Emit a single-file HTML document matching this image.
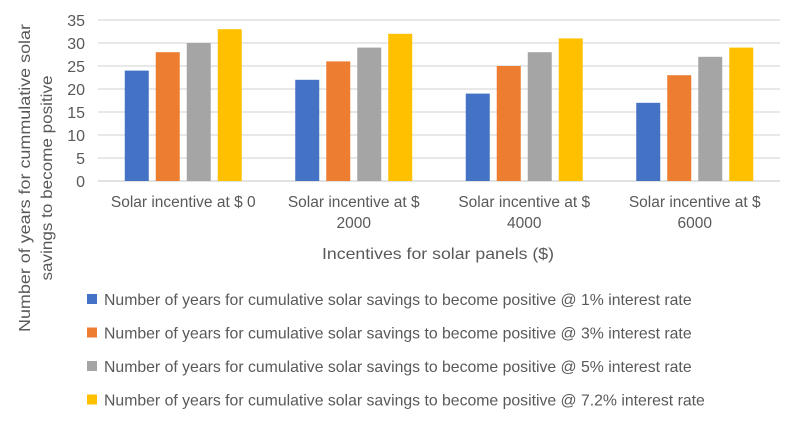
<!DOCTYPE html>
<html><head><meta charset="utf-8"><style>
body{margin:0;background:#fff;font-family:"Liberation Sans",sans-serif}
svg text{font-family:"Liberation Sans",sans-serif;fill:#595959}
</style></head><body>
<svg width="788" height="425" xmlns="http://www.w3.org/2000/svg" id="chart">
<g id="grid"></g>
<g id="yticks"></g>
<g id="bars"></g>
<g id="xlabels"></g>
<text transform="translate(30,178) rotate(-90)" text-anchor="middle" font-size="16">
<tspan x="0" dy="0" textLength="308" lengthAdjust="spacingAndGlyphs">Number of years for cummulative solar</tspan><tspan x="0" dy="22" textLength="205" lengthAdjust="spacingAndGlyphs">savings to become positive</tspan></text>
<text x="438" y="259" text-anchor="middle" font-size="16" textLength="232" lengthAdjust="spacingAndGlyphs">Incentives for solar panels ($)</text>
<g id="legend"></g>
</svg>
<script>
const categories=[["Solar incentive at $ 0"],["Solar incentive at $","2000"],["Solar incentive at $","4000"],["Solar incentive at $","6000"]];
const rate1=[24,22,19,17];
const rate3=[28,26,25,23];
const rate5=[30,29,28,27];
const rate72=[33,32,31,29];
const seriesNames=["Number of years for cumulative solar savings to become positive @ 1% interest rate","Number of years for cumulative solar savings to become positive @ 3% interest rate","Number of years for cumulative solar savings to become positive @ 5% interest rate","Number of years for cumulative solar savings to become positive @ 7.2% interest rate"];
const yTicks=[0,5,10,15,20,25,30,35];
const colors=["#4472C4","#ED7D31","#A5A5A5","#FFC000"];
const series=[rate1,rate3,rate5,rate72];
const NS="http://www.w3.org/2000/svg";
const x0=98,x1=780,yTop=20,yBot=181,yMax=35;
const y=v=>yBot-(v/yMax)*(yBot-yTop);
const cw=(x1-x0)/categories.length;
function mk(tag,attrs,parent){const e=document.createElementNS(NS,tag);for(const k in attrs)e.setAttribute(k,attrs[k]);parent.appendChild(e);return e;}
const grid=document.getElementById('grid'),yt=document.getElementById('yticks'),bars=document.getElementById('bars'),xl=document.getElementById('xlabels'),lg=document.getElementById('legend');
yTicks.forEach(t=>{
 const l=mk('line',{x1:x0,x2:x1,y1:y(t),y2:y(t),stroke:t===0?'#D0D0D0':'#D9D9D9','stroke-width':1.3},grid);
 
 
 const tx=mk('text',{x:85,y:y(t)+6,'text-anchor':'end','font-size':16},yt);
 tx.textContent=t;
 
 
});
const bw=24,step=31;
categories.forEach((c,i)=>{
 const cx=x0+cw*(i+0.5);
 series.forEach((s,j)=>{
  const bx=cx-2*step+j*step+(step-bw)/2;
  const r=mk('rect',{x:bx,y:y(s[i]),width:bw,height:yBot-y(s[i]),fill:colors[j]},bars);
  
  
 });
 const t=mk('text',{x:cx,y:207,'text-anchor':'middle','font-size':15.5},xl);
 
 
 c.forEach((line,k)=>{const ts=mk('tspan',{x:cx,dy:k?21:0},t);ts.textContent=line;});
});
seriesNames.forEach((n,j)=>{
 const yy=303+j*33.5;
 const g=mk('g',{},lg);
 
 
 mk('rect',{x:87,y:yy-9,width:10,height:10,fill:colors[j]},g);
 const t=mk('text',{x:104,y:yy+2,'font-size':15.8},g);
 t.textContent=n;
});
</script>
</body></html>
